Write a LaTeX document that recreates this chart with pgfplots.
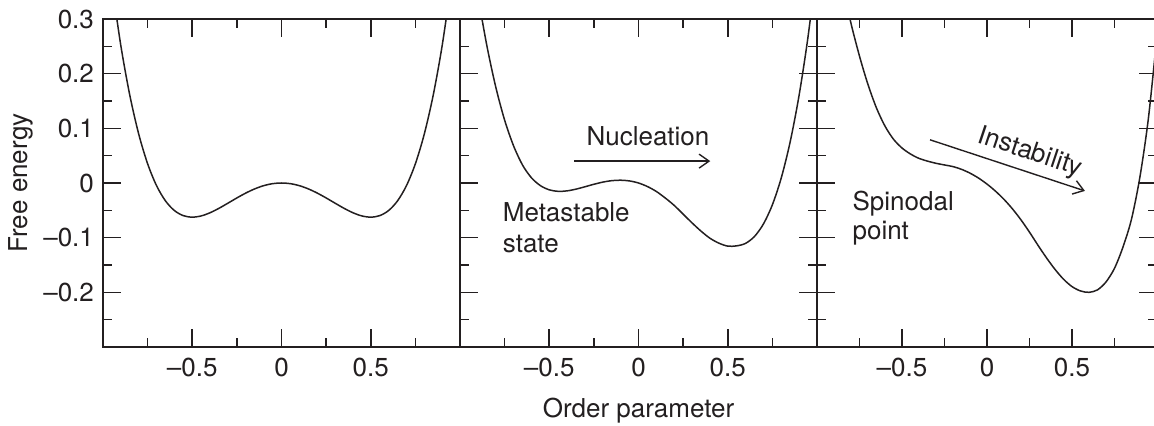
\documentclass[border=0pt]{standalone}
\usepackage{fontspec}
\setmainfont{TeX Gyre Heros}
\usepackage{pgfplots}
\pgfplotsset{compat=1.18}
\usetikzlibrary{arrows.meta}
\definecolor{ink}{RGB}{35,31,32}

\pgfplotsset{
  panel/.style={
    scale only axis,
    height=164pt,
    xmin=-1, xmax=1, ymin=-0.3, ymax=0.3,
    xtick={-0.5,0,0.5},
    xticklabels={\textendash0.5,0,0.5},
    minor xtick={-0.75,-0.25,0.25,0.75},
    ytick={-0.2,-0.1,0,0.1,0.2,0.3},
    minor ytick={-0.25,-0.15,-0.05,0.05,0.15,0.25},
    major tick length=9pt,
    minor tick length=4.5pt,
    tick align=inside,
    axis line style={line width=0.9pt, draw=ink},
    every tick/.style={line width=0.8pt, draw=ink},
    every minor tick/.style={line width=0.8pt, draw=ink},
    tick label style={font=\fontsize{13}{15.5}\selectfont, text=ink},
    label style={font=\fontsize{13}{15.5}\selectfont, text=ink},
    xticklabel style={yshift=-2.2pt},
    yticklabel style={xshift=-1pt},
  },
  curve/.style={draw=ink, line width=0.75pt, smooth, mark=none},
}

\begin{document}
\begin{tikzpicture}[font=\fontsize{13}{15.5}\selectfont]
% Panel 1: symmetric double well
\begin{axis}[panel, name=p1, at={(0pt,0pt)}, anchor=south west,
  width=178.5pt,
  ytick pos=left,
  yticklabels={\textendash0.2,\textendash0.1,0,0.1,0.2,0.3},
  ylabel={Free energy},
  ylabel style={at={(axis description cs:-0.1754,0.5)}, anchor=south},
]
\addplot[curve] coordinates {
(-0.95,0.36326) (-0.90,0.2511) (-0.85,0.16076) (-0.80,0.0896) (-0.75,0.03516)
(-0.70,-0.0049) (-0.65,-0.03274) (-0.60,-0.0504) (-0.55,-0.05974) (-0.50,-0.0625)
(-0.45,-0.06024) (-0.40,-0.0544) (-0.35,-0.04624) (-0.30,-0.0369) (-0.25,-0.02734)
(-0.20,-0.0184) (-0.15,-0.01074) (-0.10,-0.0049) (-0.05,-0.00124) (0,0)
(0.05,-0.00124) (0.10,-0.0049) (0.15,-0.01074) (0.20,-0.0184) (0.25,-0.02734)
(0.30,-0.0369) (0.35,-0.04624) (0.40,-0.0544) (0.45,-0.06024) (0.50,-0.0625)
(0.55,-0.05974) (0.60,-0.0504) (0.65,-0.03274) (0.70,-0.0049) (0.75,0.03516)
(0.80,0.0896) (0.85,0.16076) (0.90,0.2511) (0.95,0.36326)
};
\end{axis}

% Panel 2: metastable
\begin{axis}[panel, name=p2, at={(178.5pt,0pt)}, anchor=south west,
  width=178.5pt,
  ytick pos=both,
  yticklabels={},
  xlabel={Order parameter},
  xlabel style={at={(axis description cs:0.5,-0.1354)}, anchor=north},
]
\addplot[curve] coordinates {
(-0.95,0.458) (-0.90,0.345) (-0.85,0.252) (-0.80,0.176) (-0.75,0.115)
(-0.70,0.068) (-0.65,0.033) (-0.60,0.0096) (-0.55,-0.00474) (-0.50,-0.0125)
(-0.45,-0.01524) (-0.40,-0.0144) (-0.35,-0.01124) (-0.30,-0.0069) (-0.25,-0.00234)
(-0.20,0.0016) (-0.15,0.00426) (-0.10,0.0051) (-0.05,0.00376) (0,0)
(0.05,-0.0065) (0.10,-0.0155) (0.15,-0.0275) (0.20,-0.041) (0.25,-0.057)
(0.30,-0.073) (0.35,-0.088) (0.40,-0.101) (0.45,-0.110) (0.50,-0.1155)
(0.55,-0.1150) (0.60,-0.1104) (0.65,-0.09774) (0.70,-0.0749) (0.75,-0.03984)
(0.80,0.0096) (0.85,0.07576) (0.90,0.1611) (0.95,0.26826) (1.00,0.4)
};
\draw[-{Straight Barb[length=5pt,width=7pt]}, line width=0.7pt, ink]
  (axis cs:-0.361,0.04) -- (axis cs:0.402,0.04);
\node[anchor=base, inner sep=0, text=ink] at (axis cs:0.053,0.069) {Nucleation};
\node[anchor=base west, inner sep=0, text=ink] at (axis cs:-0.762,-0.070) {Metastable};
\node[anchor=base west, inner sep=0, text=ink] at (axis cs:-0.762,-0.127) {state};
\end{axis}

% Panel 3: spinodal
\begin{axis}[panel, name=p3, at={(357pt,0pt)}, anchor=south west,
  width=170pt,
  ytick pos=both,
  yticklabels={},
]
\addplot[curve] coordinates {
(-0.84,0.36) (-0.806,0.30) (-0.75,0.232) (-0.70,0.180) (-0.65,0.137)
(-0.60,0.104) (-0.55,0.080) (-0.50,0.064) (-0.45,0.053) (-0.40,0.045)
(-0.35,0.040) (-0.30,0.036) (-0.25,0.033) (-0.20,0.030) (-0.15,0.025)
(-0.10,0.018) (-0.05,0.009) (0.00,-0.002) (0.05,-0.015) (0.10,-0.030)
(0.15,-0.0475) (0.20,-0.0675) (0.25,-0.090) (0.30,-0.114) (0.35,-0.137)
(0.40,-0.158) (0.45,-0.176) (0.50,-0.1895) (0.55,-0.1975) (0.60,-0.200)
(0.65,-0.1955) (0.70,-0.181) (0.75,-0.156) (0.80,-0.117) (0.85,-0.066)
(0.90,0.012) (0.95,0.12) (1.00,0.27)
};
\draw[-{Straight Barb[length=5pt,width=7pt]}, line width=0.7pt, ink]
  (axis cs:-0.335,0.079) -- (axis cs:0.576,-0.0145);
\node[rotate=-18.5, inner sep=0, text=ink] at (axis cs:0.253,0.055) {Instability};
\node[anchor=base west, inner sep=0, text=ink] at (axis cs:-0.793,-0.0497) {Spinodal};
\node[anchor=base west, inner sep=0, text=ink] at (axis cs:-0.793,-0.104) {point};
\end{axis}

\pgfresetboundingbox
\useasboundingbox (-51.5pt,-39.5pt) rectangle (525.5pt,173.5pt);
\end{tikzpicture}
\end{document}
